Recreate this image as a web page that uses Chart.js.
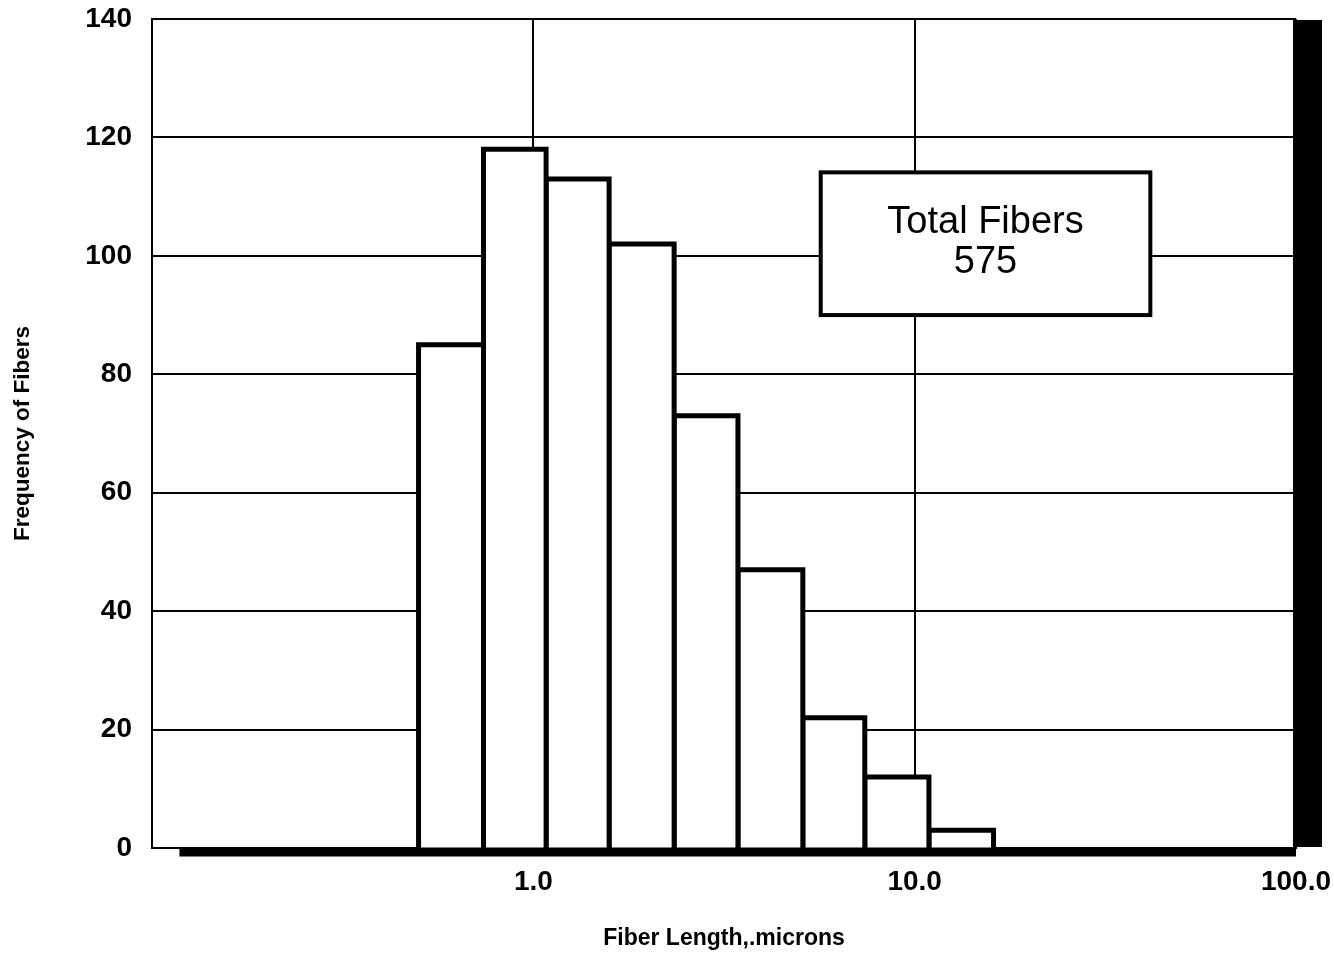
<!DOCTYPE html>
<html><head><meta charset="utf-8">
<script src="https://cdn.jsdelivr.net/npm/chart.js@4"></script>
<style>html,body{margin:0;padding:0;background:#fff}</style>
</head><body>
<canvas id="c" width="1334" height="958"></canvas>
<script>
// ---- data ----
const binEdges = [0.50, 0.74, 1.08, 1.58, 2.34, 3.44, 5.09, 7.40, 10.9, 16.1];
const counts   = [85, 118, 113, 102, 73, 47, 22, 12, 3];
const xTickValues = [0.1, 1, 10, 100];
const xTickLabels = ['', '1.0', '10.0', '100.0'];
const yTickValues = [0, 20, 40, 60, 80, 100, 120, 140];
const totalLabel = ['Total Fibers', '575'];

// ---- decoration placement (data units) ----
const baselineFrom = 0.118;
const box = { x0: 5.67, x1: 41.5, y0: 90, y1: 114.1 };

const FONT = '"Liberation Sans", Arial, Helvetica, sans-serif';

const datasets = counts.map((c, i) => ({
  data: [
    { x: binEdges[i], y: 0 },
    { x: binEdges[i], y: c },
    { x: binEdges[i + 1], y: c },
    { x: binEdges[i + 1], y: 0 }
  ],
  borderColor: '#000',
  borderWidth: 5,
  backgroundColor: '#fff',
  fill: 'origin',
  pointRadius: 0,
  tension: 0,
  borderJoinStyle: 'miter',
  borderCapStyle: 'butt'
}));

const decor = {
  id: 'decor',
  afterDraw(chart) {
    const { ctx, chartArea: a, scales: { x, y } } = chart;
    ctx.save();
    const y0 = y.getPixelForValue(0);
    ctx.strokeStyle = '#000';
    ctx.lineWidth = 9;
    ctx.beginPath();
    ctx.moveTo(x.getPixelForValue(baselineFrom), y0 + 4);
    ctx.lineTo(a.right, y0 + 4);
    ctx.stroke();
    ctx.fillStyle = '#000';
    ctx.fillRect(a.right - 3, a.top + 1, 29, a.bottom - a.top - 2);
    const bx0 = x.getPixelForValue(box.x0), bx1 = x.getPixelForValue(box.x1);
    const by0 = y.getPixelForValue(box.y1), by1 = y.getPixelForValue(box.y0);
    ctx.fillStyle = '#fff';
    ctx.fillRect(bx0, by0, bx1 - bx0, by1 - by0);
    ctx.lineWidth = 4;
    ctx.strokeRect(bx0, by0, bx1 - bx0, by1 - by0);
    ctx.fillStyle = '#000';
    ctx.font = '38px ' + FONT;
    ctx.textAlign = 'center';
    ctx.textBaseline = 'alphabetic';
    const cx = (bx0 + bx1) / 2;
    ctx.fillText(totalLabel[0], cx, by0 + 61);
    ctx.fillText(totalLabel[1], cx, by0 + 101);
    ctx.restore();
  }
};

new Chart(document.getElementById('c'), {
  type: 'line',
  data: { datasets },
  plugins: [decor],
  options: {
    responsive: false,
    animation: false,
    devicePixelRatio: 1,
    layout: { padding: { top: 19, right: 38, bottom: 0, left: 0 } },
    plugins: { legend: { display: false }, tooltip: { enabled: false } },
    scales: {
      x: {
        type: 'logarithmic',
        min: 0.1, max: 100,
        z: 1,
        afterBuildTicks: s => { s.ticks = xTickValues.map(v => ({ value: v })); },
        afterFit: s => { s.paddingLeft = 0; s.paddingRight = 0; },
        ticks: {
          autoSkip: false, maxRotation: 0, minRotation: 0,
          padding: 17,
          color: '#000',
          font: { family: FONT, size: 28, weight: 'bold' },
          callback: v => {
            const i = xTickValues.findIndex(t => Math.abs(t - v) < 1e-9);
            return i >= 0 ? xTickLabels[i] : '';
          }
        },
        grid: { color: '#000', lineWidth: 2, drawTicks: false },
        border: { display: true, color: '#000', width: 2 },
        title: {
          display: true, text: 'Fiber Length,.microns', color: '#000',
          font: { family: FONT, size: 23, weight: 'bold' },
          padding: { top: 8.8, bottom: 6 }
        }
      },
      y: {
        type: 'linear',
        min: 0, max: 140,
        afterBuildTicks: s => { s.ticks = yTickValues.map(v => ({ value: v })); },
        afterFit: s => { s.paddingTop = 0; s.paddingBottom = 0; },
        ticks: {
          padding: 20,
          color: '#000',
          font: { family: FONT, size: 28, weight: 'bold' }
        },
        grid: { color: '#000', lineWidth: 2, drawTicks: false },
        border: { display: true, color: '#000', width: 2 },
        title: {
          display: true, text: 'Frequency of Fibers', color: '#000',
          font: { family: FONT, size: 22.5, weight: 'bold' },
          padding: { top: 9.5, bottom: 28.8 }
        }
      }
    }
  }
});
</script>
</body></html>
